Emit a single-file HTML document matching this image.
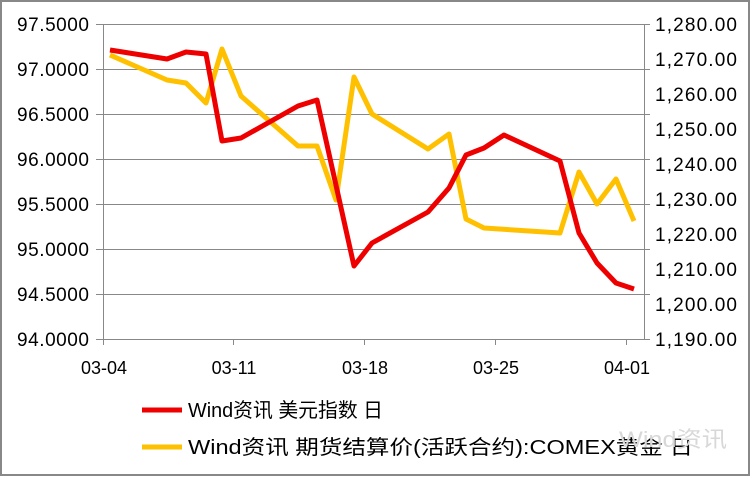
<!DOCTYPE html>
<html><head><meta charset="utf-8"><style>
html,body{margin:0;padding:0;background:#fff}
svg text{font-family:"Liberation Sans","Noto Sans CJK SC",sans-serif}
</style></head><body>
<svg width="752" height="477" xmlns="http://www.w3.org/2000/svg">
<rect x="1" y="1" width="748" height="474" fill="#fff" stroke="#888" stroke-width="2"/>
<g stroke="#888" stroke-width="1">
<line x1="96" y1="24.5" x2="650" y2="24.5"/>
<line x1="96" y1="69.5" x2="650" y2="69.5"/>
<line x1="96" y1="114.5" x2="650" y2="114.5"/>
<line x1="96" y1="159.5" x2="650" y2="159.5"/>
<line x1="96" y1="204.5" x2="650" y2="204.5"/>
<line x1="96" y1="249.5" x2="650" y2="249.5"/>
<line x1="96" y1="294.5" x2="650" y2="294.5"/>
<line x1="96" y1="339.5" x2="650" y2="339.5"/>
<line x1="103.5" y1="24" x2="103.5" y2="345"/>
<line x1="644.5" y1="24" x2="644.5" y2="339"/>
<line x1="233.5" y1="339" x2="233.5" y2="345"/>
<line x1="364.5" y1="339" x2="364.5" y2="345"/>
<line x1="495.5" y1="339" x2="495.5" y2="345"/>
<line x1="626.5" y1="339" x2="626.5" y2="345"/>
</g>
<g font-size="19" fill="#000" text-anchor="end">
<text x="89" y="31" textLength="72">97.5000</text><text x="89" y="76" textLength="72">97.0000</text>
<text x="89" y="121" textLength="72">96.5000</text><text x="89" y="166" textLength="72">96.0000</text>
<text x="89" y="211" textLength="72">95.5000</text><text x="89" y="256" textLength="72">95.0000</text>
<text x="89" y="301" textLength="72">94.5000</text><text x="89" y="346" textLength="72">94.0000</text>
</g>
<g font-size="19" fill="#000" text-anchor="start">
<text x="655" y="31" textLength="82">1,280.00</text><text x="655" y="66" textLength="82">1,270.00</text>
<text x="655" y="101" textLength="82">1,260.00</text><text x="655" y="136" textLength="82">1,250.00</text>
<text x="655" y="171" textLength="82">1,240.00</text><text x="655" y="206" textLength="82">1,230.00</text>
<text x="655" y="241" textLength="82">1,220.00</text><text x="655" y="276" textLength="82">1,210.00</text>
<text x="655" y="311" textLength="82">1,200.00</text><text x="655" y="346" textLength="82">1,190.00</text>
</g>
<g font-size="18" fill="#000" text-anchor="middle">
<text x="104" y="374">03-04</text><text x="234" y="374">03-11</text>
<text x="365" y="374">03-18</text><text x="496" y="374">03-25</text>
<text x="627" y="374">04-01</text>
</g>
<polyline fill="none" stroke="#FFC000" stroke-width="5" stroke-linejoin="round" points="110,55 167,80 186,83 206,103 222,49 241,96 298,146 317,146 336,200 354,77 372,114 428,149 449,134 466,219 484,228 560,233 579,172 597,204 616,179 634,221"/>
<polyline fill="none" stroke="#EE0000" stroke-width="5" stroke-linejoin="round" points="110,50 167,59 186,52 206,54 222,141 241,138 298,106 317,100 354,266 372,243 428,212 449,188 466,155 484,148 504,135 560,161 579,233 597,263 616,283 634,289"/>
<line x1="142" y1="410" x2="182" y2="410" stroke="#EE0000" stroke-width="5"/>
<text x="188" y="417" font-size="20" textLength="195" lengthAdjust="spacingAndGlyphs">Wind资讯 美元指数 日</text>
<line x1="142" y1="447" x2="182" y2="447" stroke="#FFC000" stroke-width="5"/>
<text x="188" y="454" font-size="20" textLength="505" lengthAdjust="spacingAndGlyphs">Wind资讯 期货结算价(活跃合约):COMEX黄金 日</text>
<text x="619" y="447" font-size="22" fill="#d8d8d8" textLength="108" lengthAdjust="spacingAndGlyphs">Wind资讯</text>
</svg>
</body></html>
